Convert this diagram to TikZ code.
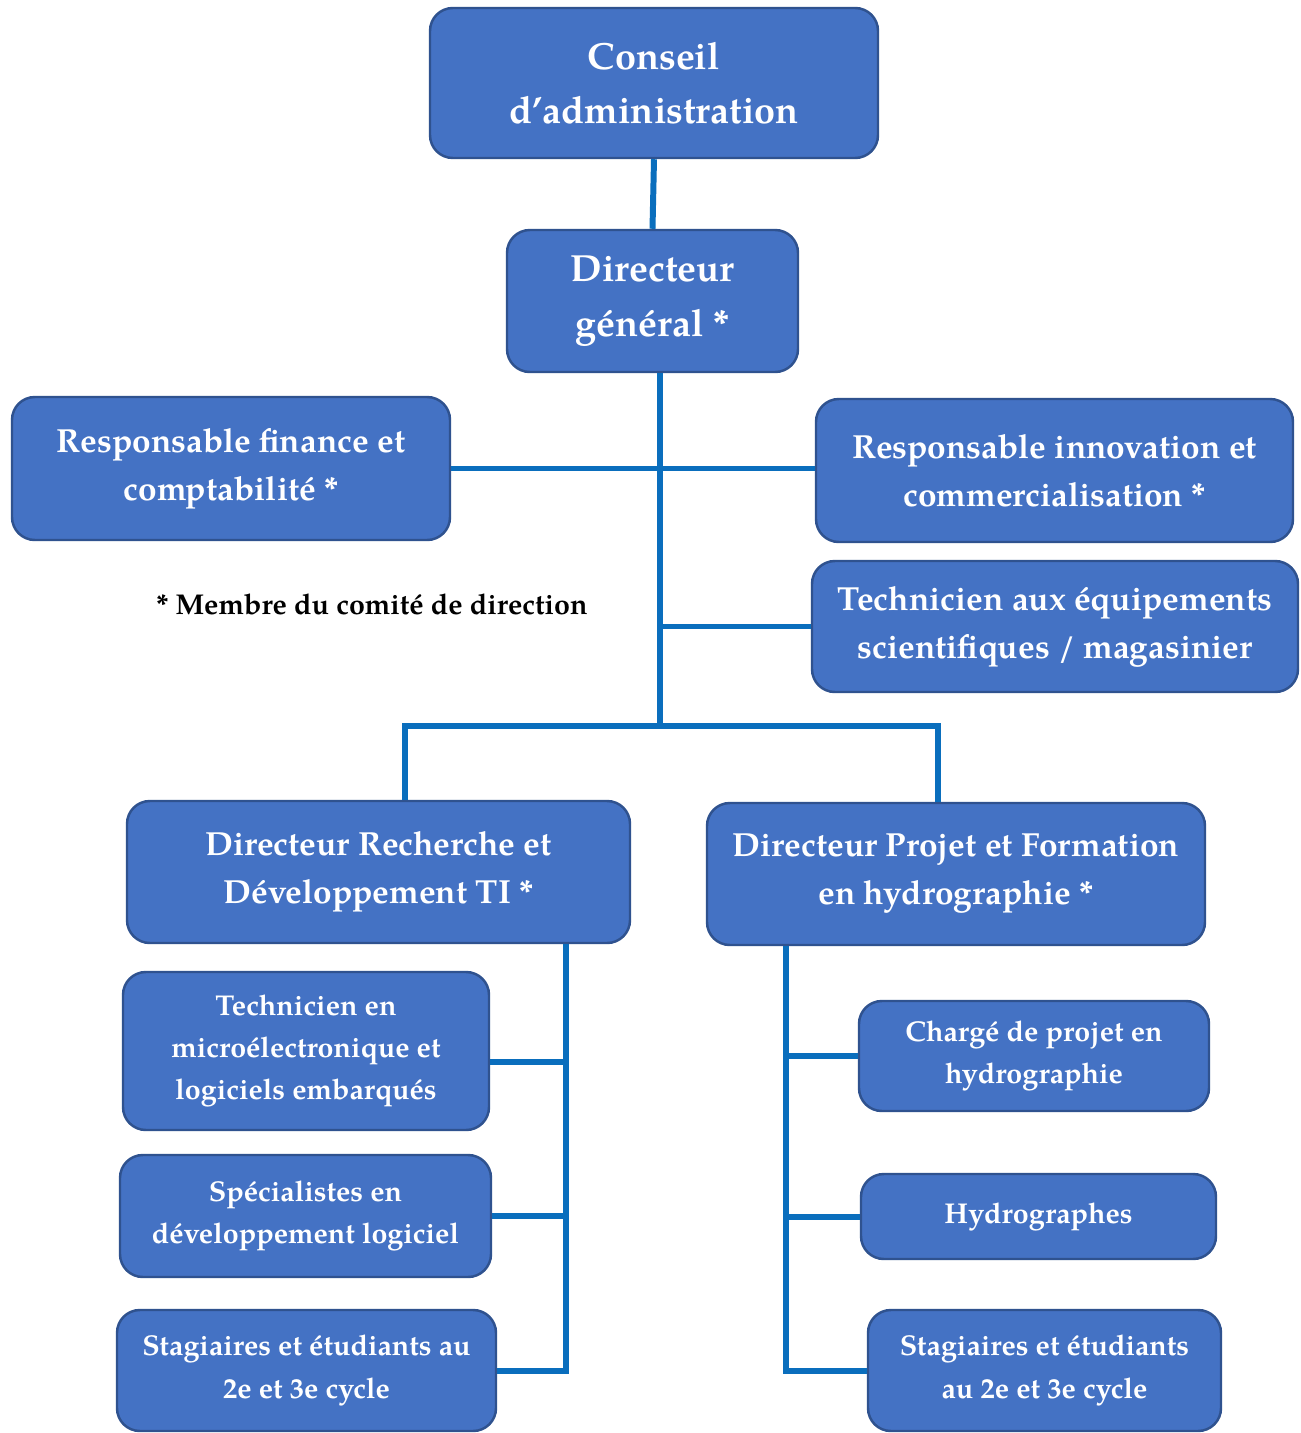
\documentclass[tikz,border=0pt]{standalone}
\usepackage{fontspec}
\setmainfont{texgyrepagella}[Extension=.otf,UprightFont=*-regular,BoldFont=*-bold,ItalicFont=*-italic,BoldItalicFont=*-bolditalic]
\definecolor{boxfill}{HTML}{4472C4}
\definecolor{boxline}{HTML}{2F528F}
\definecolor{conn}{HTML}{0A6EBD}
\tikzset{
  orgbox/.style={draw=boxline, line width=1.4pt, fill=boxfill, rounded corners=13pt,
    text=white, align=center, inner sep=0pt, font=\bfseries},
  lvlA/.style={font=\bfseries\fontsize{21.5}{31}\selectfont},
  lvlB/.style={font=\bfseries\fontsize{19}{27.3}\selectfont},
  lvlC/.style={font=\bfseries\fontsize{16.3}{24}\selectfont},
  conn/.style={draw=conn, line width=3.4pt}
}
\begin{document}
\begin{tikzpicture}[x=0.02cm,y=-0.02cm]
\path[use as bounding box, fill=white] (0,0) rectangle (1301,1433);
\begin{scope}
\clip (0,0) rectangle (1301,1433);
% nodes
\node[orgbox, lvlA, minimum width=448*0.02cm, minimum height=150*0.02cm] (conseil) at (654,83) {Conseil\\d’administration};
\node[orgbox, lvlA, minimum width=291*0.02cm, minimum height=142*0.02cm] (dg) at (652.5,301) {Directeur\\général *};
\node[orgbox, lvlB, minimum width=438*0.02cm, minimum height=143*0.02cm] (fin) at (231,468.5) {Responsable finance et\\comptabilité *};
\node[orgbox, lvlB, minimum width=477*0.02cm, minimum height=143*0.02cm] (inno) at (1054.5,470.5) {Responsable innovation et\\commercialisation *};
\node[orgbox, lvlB, minimum width=486*0.02cm, minimum height=131*0.02cm] (tech) at (1055,626.5) {Technicien aux équipements\\scientifiques / magasinier};
\node[font=\bfseries\fontsize{16.3}{19}\selectfont, text=black, inner sep=0pt] (note) at (372,604) {* Membre du comité de direction};
\node[orgbox, lvlB, minimum width=503*0.02cm, minimum height=142*0.02cm] (drd) at (378.5,872) {Directeur Recherche et\\Développement TI *};
\node[orgbox, lvlB, minimum width=498*0.02cm, minimum height=142*0.02cm] (dpf) at (956,874) {Directeur Projet et Formation\\en hydrographie *};
\node[orgbox, lvlC, minimum width=366*0.02cm, minimum height=158*0.02cm] (micro) at (306,1051) {Technicien en\\microélectronique et\\logiciels embarqués};
\node[orgbox, lvlC, minimum width=371*0.02cm, minimum height=122*0.02cm] (spec) at (305.5,1216) {Spécialistes en\\développement logiciel};
\node[orgbox, lvlC, minimum width=379*0.02cm, minimum height=121*0.02cm] (stagL) at (306.5,1370.5) {Stagiaires et étudiants au\\2e et 3e cycle};
\node[orgbox, lvlC, minimum width=350*0.02cm, minimum height=110*0.02cm] (charge) at (1034,1056) {Chargé de projet en\\hydrographie};
\node[orgbox, lvlC, minimum width=355*0.02cm, minimum height=85*0.02cm] (hydro) at (1038.5,1216.5) {Hydrographes};
\node[orgbox, lvlC, minimum width=353*0.02cm, minimum height=121*0.02cm] (stagR) at (1044.5,1370.5) {Stagiaires et étudiants\\au 2e et 3e cycle};
% helper coordinates
\coordinate (trunk) at (660,726);
\coordinate (barL) at (405,726);
\coordinate (barR) at (938,726);
\coordinate (lbx) at (566,0);
\coordinate (rbx) at (786,0);
% connectors
\draw[conn] (conseil.south) -- (dg.north);
\draw[conn] (dg.south -| trunk) -- (trunk);
\draw[conn] (fin.east) -- (fin.east -| inno.west);
\draw[conn] (tech.west -| trunk) -- (tech.west);
\draw[conn] (barL |- drd.north) -- (barL) -- (barR) -- (barR |- dpf.north);
\draw[conn] (lbx |- drd.south) -- (lbx |- stagL.east) -- (stagL.east);
\draw[conn] ([yshift=-0.22cm]micro.east) -- ([yshift=-0.22cm]micro.east -| lbx);
\draw[conn] (spec.east) -- (spec.east -| lbx);
\draw[conn] (rbx |- dpf.south) -- (rbx |- stagR.west) -- (stagR.west);
\draw[conn] (charge.west) -- (charge.west -| rbx);
\draw[conn] (hydro.west) -- (hydro.west -| rbx);
\end{scope}
\end{tikzpicture}
\end{document}
